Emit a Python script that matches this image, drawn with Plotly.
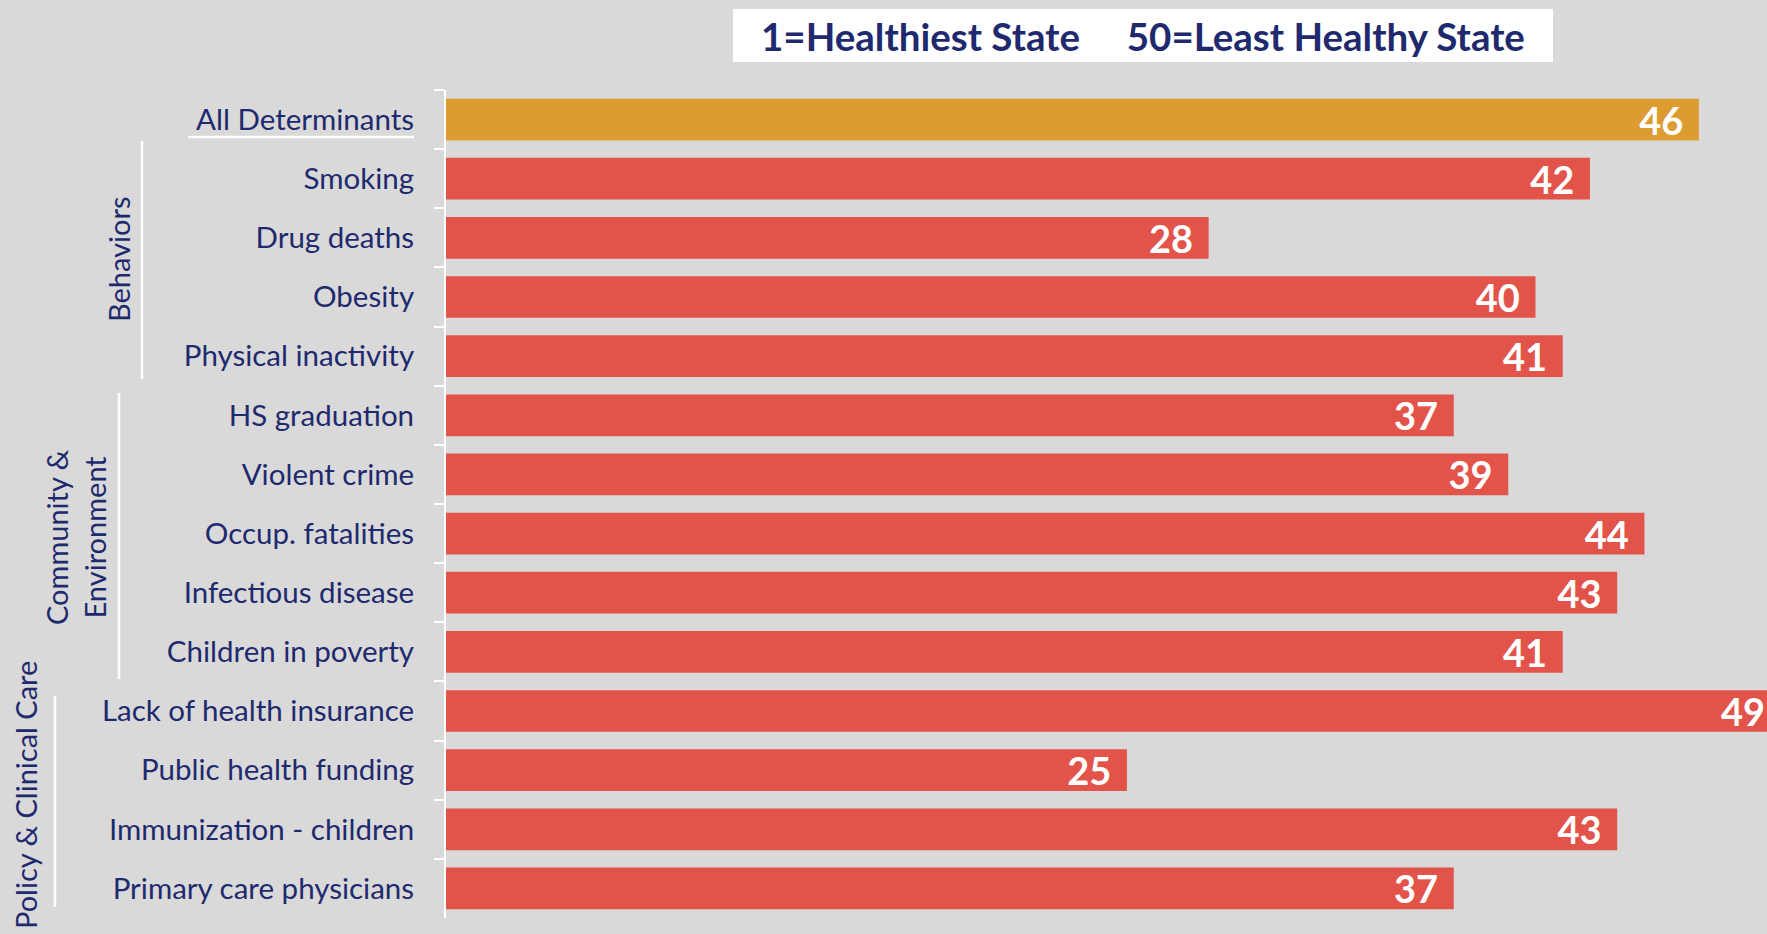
import plotly.graph_objects as go

categories = [
    "All Determinants", "Smoking", "Drug deaths", "Obesity", "Physical inactivity",
    "HS graduation", "Violent crime", "Occup. fatalities", "Infectious disease",
    "Children in poverty", "Lack of health insurance", "Public health funding",
    "Immunization - children", "Primary care physicians",
]
ranks = [46, 42, 28, 40, 41, 37, 39, 44, 43, 41, 49, 25, 43, 37]
groups = ["Behaviors", "Community &<br>Environment", "Policy & Clinical Care"]
header_text = "1=Healthiest State&nbsp;&nbsp;&nbsp;&nbsp;&nbsp;50=Least Healthy State"

W, H = 1767, 934
L, R, T, B = 446, 0, 90, 16
PW, PH = W - L - R, H - T - B

BG = "#D9D9D9"
RED = "#E2534A"
GOLD = "#DC9C32"
NAVY = "#1F2A6E"
FONT = "Lato, 'Open Sans', sans-serif"


def px(x):
    return (x - L) / PW


def py(y):
    return 1 - (y - T) / PH


colors = [GOLD if c == "All Determinants" else RED for c in categories]

fig = go.Figure()
fig.add_trace(go.Bar(
    x=ranks, y=categories, orientation="h",
    marker=dict(color=colors, line=dict(width=0)),
    text=[f"{v}\u2004" for v in ranks],
    textposition="inside", insidetextanchor="end", constraintext="none",
    textangle=0,
    insidetextfont=dict(family=FONT, size=38, color="white", weight="bold"),
    hoverinfo="skip",
))

shapes = []
# header box
shapes.append(dict(type="rect", xref="paper", yref="paper",
                   x0=px(733), x1=px(1553), y0=py(62), y1=py(9),
                   fillcolor="white", line=dict(width=0), layer="below"))
# underline for All Determinants
shapes.append(dict(type="line", xref="paper", yref="paper",
                   x0=px(188), x1=px(414), y0=py(137), y1=py(137),
                   line=dict(color="white", width=2.5)))
# group brackets
for x, y0, y1 in [(142, 141, 379), (119, 393, 679), (55, 696, 907)]:
    shapes.append(dict(type="line", xref="paper", yref="paper",
                       x0=px(x), x1=px(x), y0=py(y0), y1=py(y1),
                       line=dict(color="white", width=2.5)))

annotations = [
    dict(text=header_text, xref="paper", yref="paper", x=px(1143), y=py(36),
         xanchor="center", yanchor="middle", showarrow=False,
         font=dict(family=FONT, size=38.5, color=NAVY, weight="bold")),
    dict(text=groups[0], xref="paper", yref="paper", x=px(118), y=py(259),
         xanchor="center", yanchor="middle", showarrow=False, textangle=-90,
         font=dict(family=FONT, size=29, color=NAVY)),
    dict(text=groups[1], xref="paper", yref="paper", x=px(75), y=py(537),
         xanchor="center", yanchor="middle", showarrow=False, textangle=-90,
         font=dict(family=FONT, size=29, color=NAVY)),
    dict(text=groups[2], xref="paper", yref="paper", x=px(25), y=py(795),
         xanchor="center", yanchor="middle", showarrow=False, textangle=-90,
         font=dict(family=FONT, size=29, color=NAVY)),
]

fig.update_layout(
    width=W, height=H,
    margin=dict(l=L, r=R, t=T, b=B, pad=0),
    paper_bgcolor=BG, plot_bgcolor=BG,
    bargap=0.295, showlegend=False,
    shapes=shapes, annotations=annotations,
    xaxis=dict(range=[0, 48.5], showgrid=False, zeroline=False,
               showticklabels=False, showline=False, fixedrange=True),
    yaxis=dict(categoryorder="array", categoryarray=categories,
               range=[len(categories) - 0.5, -0.5], autorange=False,
               showgrid=False, zeroline=False, automargin=False,
               showline=True, linecolor="white", linewidth=2,
               ticks="outside", tickson="boundaries", ticklen=10,
               tickcolor="white", tickwidth=2, ticklabelstandoff=24,
               tickfont=dict(family=FONT, size=29.5, color=NAVY)),
)

fig.write_html("out.html", config={"displayModeBar": False},
               post_script="document.body.style.margin='0';document.body.style.overflow='hidden';")
